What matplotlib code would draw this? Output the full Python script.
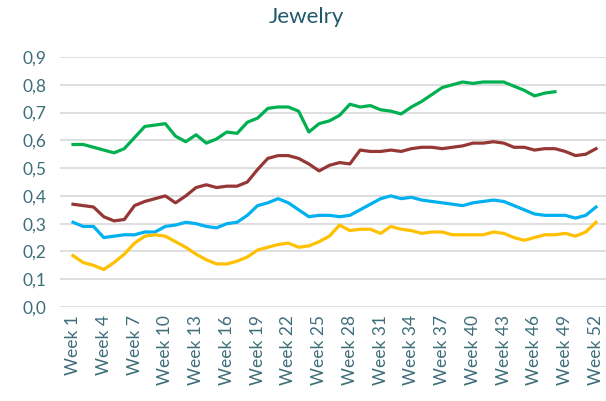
import matplotlib
matplotlib.use("Agg")
import matplotlib.pyplot as plt
import numpy as np

weeks = list(range(1, 53))
tick_weeks = list(range(1, 53, 3))
tick_labels = [f"Week {w}" for w in tick_weeks]

green = [0.585, 0.585, 0.575, 0.565, 0.555, 0.57, 0.61, 0.65, 0.655, 0.66,
         0.615, 0.595, 0.62, 0.59, 0.605, 0.63, 0.625, 0.665, 0.68, 0.715,
         0.72, 0.72, 0.705, 0.63, 0.66, 0.67, 0.69, 0.73, 0.72, 0.725,
         0.71, 0.705, 0.695, 0.72, 0.74, 0.765, 0.79, 0.80, 0.81, 0.805,
         0.81, 0.81, 0.81, 0.795, 0.78, 0.76, 0.77, 0.775]
brown = [0.37, 0.365, 0.36, 0.325, 0.31, 0.315, 0.365, 0.38, 0.39, 0.40,
         0.375, 0.40, 0.43, 0.44, 0.43, 0.435, 0.435, 0.45, 0.495, 0.535,
         0.545, 0.545, 0.535, 0.515, 0.49, 0.51, 0.52, 0.515, 0.565, 0.56,
         0.56, 0.565, 0.56, 0.57, 0.575, 0.575, 0.57, 0.575, 0.58, 0.59,
         0.59, 0.595, 0.59, 0.575, 0.575, 0.565, 0.57, 0.57, 0.56, 0.545,
         0.55, 0.57]
blue = [0.305, 0.29, 0.29, 0.25, 0.255, 0.26, 0.26, 0.27, 0.27, 0.29,
        0.295, 0.305, 0.30, 0.29, 0.285, 0.30, 0.305, 0.33, 0.365, 0.375,
        0.39, 0.375, 0.35, 0.325, 0.33, 0.33, 0.325, 0.33, 0.35, 0.37,
        0.39, 0.40, 0.39, 0.395, 0.385, 0.38, 0.375, 0.37, 0.365, 0.375,
        0.38, 0.385, 0.38, 0.365, 0.35, 0.335, 0.33, 0.33, 0.33, 0.32,
        0.33, 0.36]
yellow = [0.185, 0.16, 0.15, 0.135, 0.16, 0.19, 0.23, 0.255, 0.26, 0.255,
          0.235, 0.215, 0.19, 0.17, 0.155, 0.155, 0.165, 0.18, 0.205, 0.215,
          0.225, 0.23, 0.215, 0.22, 0.235, 0.255, 0.295, 0.275, 0.28, 0.28,
          0.265, 0.29, 0.28, 0.275, 0.265, 0.27, 0.27, 0.26, 0.26, 0.26,
          0.26, 0.27, 0.265, 0.25, 0.24, 0.25, 0.26, 0.26, 0.265, 0.255,
          0.27, 0.305]

series = [(green, "#00B050"), (brown, "#953735"), (blue, "#00B0F0"), (yellow, "#FFC000")]

plt.rcParams['font.family'] = ['Lato', 'DejaVu Sans']

fig = plt.figure(figsize=(6.06, 4.01), dpi=100)
W, H = 606, 401
ax = fig.add_axes([60 / W, 1 - 307 / H, (606 - 60) / W, (307 - 57) / H])

for vals, col in series:
    ax.plot(weeks[:len(vals)], vals, color=col, lw=2.3, solid_joinstyle='round', zorder=3)

ppw = (596 - 73) / 51
ax.set_xlim(1 - 13 / ppw, 52 + 10 / ppw)
ax.set_ylim(0, 0.9)
yt = np.round(np.arange(0, 0.91, 0.1), 1)
ax.set_yticks(yt)
ax.set_yticklabels([f"{v:.1f}".replace('.', ',') for v in yt])
ax.set_xticks(tick_weeks)
ax.set_xticklabels(tick_labels, rotation=90)

lblcol = "#3E6E7A"
ax.tick_params(axis='both', length=0, colors=lblcol, labelsize=12.5)
ax.tick_params(axis='y', pad=10)
ax.tick_params(axis='x', pad=6)
ax.grid(axis='y', color="#D9D9D9", lw=1.2, zorder=0)
for s in ax.spines.values():
    s.set_visible(False)

fig.text(306 / W, 1 - 17 / H, "Jewelry", ha='center', va='center', fontsize=16, color="#215968")

fig.savefig("out.png", dpi=100)
